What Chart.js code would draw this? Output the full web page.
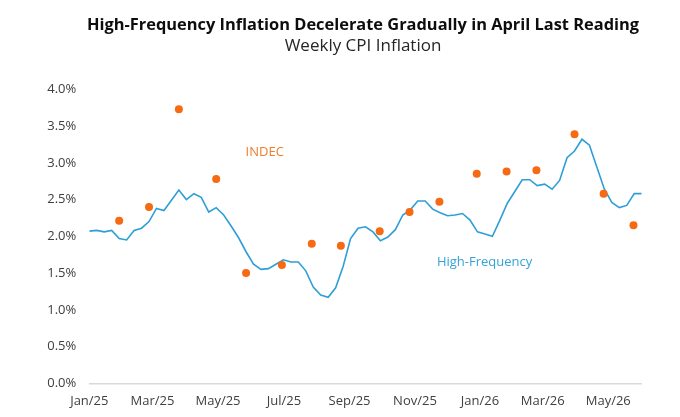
<!DOCTYPE html>
<html>
<head>
<meta charset="utf-8">
<script src="https://cdn.jsdelivr.net/npm/chart.js@4"></script>
<style>
  html, body { margin: 0; padding: 0; background: #ffffff; }
  #wrap { width: 680px; height: 417px; }
</style>
</head>
<body>
<div id="wrap"><canvas id="c" width="680" height="417"></canvas></div>
<script>
// ---- Data ----
const titleText = 'High-Frequency Inflation Decelerate Gradually in April Last Reading';
const subtitleText = 'Weekly CPI Inflation';

// Weekly high-frequency inflation (%), week 0 = start of Jan/25
const highFrequency = [
  2.07, 2.08, 2.06, 2.08, 1.97, 1.95, 2.08, 2.11, 2.20, 2.38,
  2.35, 2.49, 2.63, 2.50, 2.58, 2.53, 2.33, 2.39, 2.29, 2.14,
  1.98, 1.79, 1.62, 1.55, 1.56, 1.62, 1.68, 1.65, 1.65, 1.53,
  1.31, 1.20, 1.17, 1.30, 1.59, 1.97, 2.11, 2.13, 2.06, 1.94,
  1.99, 2.09, 2.29, 2.36, 2.48, 2.48, 2.37, 2.32, 2.28, 2.29,
  2.31, 2.22, 2.06, 2.03, 2.00, 2.22, 2.45, 2.61, 2.77, 2.77,
  2.69, 2.71, 2.64, 2.76, 3.07, 3.16, 3.32, 3.24, 2.94, 2.64,
  2.46, 2.39, 2.42, 2.58, 2.58
];

// Monthly INDEC readings (%), placed at week positions
const indecWeeks  = [4.0, 8.0, 12.0, 17.0, 21.0, 25.8, 29.8, 33.7, 38.9, 42.9, 46.9, 51.9, 55.9, 59.9, 65.0, 68.9, 72.9];
const indecValues = [2.21, 2.40, 3.73, 2.78, 1.50, 1.61, 1.90, 1.87, 2.07, 2.33, 2.47, 2.85, 2.88, 2.90, 3.39, 2.58, 2.15];

// X tick labels and their week positions
const xTickLabels = ['Jan/25', 'Mar/25', 'May/25', 'Jul/25', 'Sep/25', 'Nov/25', 'Jan/26', 'Mar/26', 'May/26'];
const xTickWeeks  = [0, 8.47, 17.24, 26.08, 34.86, 43.63, 52.34, 60.75, 69.52];

// Series labels drawn inside the plot (data coordinates)
const seriesLabels = [
  { text: 'INDEC', week: 23.5, value: 3.14, color: '#F07D2C' },
  { text: 'High-Frequency', week: 52.95, value: 1.64, color: '#35A3D6' }
];

// ---- Chart ----
const FONT = '"Open Sans", "DejaVu Sans", sans-serif';

const titlePlugin = {
  id: 'titles',
  afterDraw(chart) {
    const ctx = chart.ctx;
    ctx.save();
    ctx.textAlign = 'center';
    ctx.textBaseline = 'alphabetic';
    ctx.fillStyle = '#0d0d0d';
    ctx.font = 'bold 16.4px ' + FONT;
    ctx.fillText(titleText, 363, 30);
    ctx.fillStyle = '#262626';
    ctx.font = '17px ' + FONT;
    ctx.fillText(subtitleText, 363, 51);
    // series labels
    const xs = chart.scales.x, ys = chart.scales.y;
    ctx.font = '13px ' + FONT;
    ctx.textBaseline = 'middle';
    seriesLabels.forEach(l => {
      ctx.fillStyle = l.color;
      ctx.fillText(l.text, xs.getPixelForValue(l.week), ys.getPixelForValue(l.value));
    });
    ctx.restore();
  }
};

new Chart(document.getElementById('c'), {
  type: 'line',
  data: {
    datasets: [
      {
        label: 'INDEC',
        data: indecWeeks.map((w, i) => ({ x: w, y: indecValues[i] })),
        showLine: false,
        pointRadius: 4,
        pointHoverRadius: 4,
        pointBackgroundColor: '#F56A12',
        pointBorderWidth: 0,
        borderColor: '#F56A12',
        order: 0
      },
      {
        label: 'High-Frequency',
        data: highFrequency.map((v, i) => ({ x: i, y: v })),
        borderColor: '#2E9FD6',
        borderWidth: 1.6,
        pointRadius: 0,
        tension: 0,
        fill: false,
        order: 1
      }
    ]
  },
  options: {
    responsive: false,
    animation: false,
    devicePixelRatio: 1,
    layout: { padding: { top: 89.3, right: 38.3, left: 0, bottom: 0 } },
    plugins: {
      legend: { display: false },
      tooltip: { enabled: false },
      title: { display: false }
    },
    scales: {
      x: {
        type: 'linear',
        min: 0,
        max: 74,
        grid: { display: false, drawTicks: false },
        border: { display: true, color: '#d9d9d9', width: 1.5 },
        afterBuildTicks(axis) {
          axis.ticks = xTickWeeks.map(v => ({ value: v }));
        },
        afterFit(scale) { scale.height = 33.7; },
        ticks: {
          autoSkip: false,
          maxRotation: 0,
          padding: 10,
          color: '#404040',
          font: { family: FONT, size: 13 },
          callback(value, index) { return xTickLabels[index]; }
        }
      },
      y: {
        min: 0,
        max: 4,
        grid: { display: false, drawTicks: false },
        border: { display: false },
        afterFit(scale) { scale.width = 89.3; },
        ticks: {
          stepSize: 0.5,
          padding: 13,
          color: '#404040',
          font: { family: FONT, size: 13 },
          callback(v) { return v.toFixed(1) + '%'; }
        }
      }
    }
  },
  plugins: [titlePlugin]
});
</script>
</body>
</html>
